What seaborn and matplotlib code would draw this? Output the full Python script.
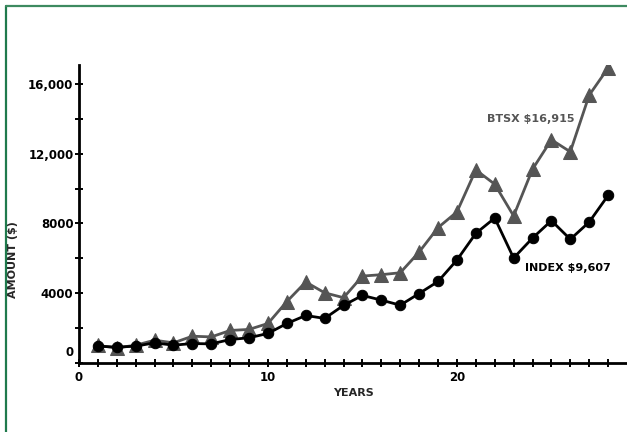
import numpy as np
import pandas as pd
import matplotlib
matplotlib.use("Agg")
import matplotlib.pyplot as plt
import matplotlib.transforms as mtransforms
from matplotlib.lines import Line2D
import seaborn as sns

years = list(range(1, 29))
index_vals = [960, 900, 960, 1150, 1015, 1110, 1090, 1340, 1440, 1690,
              2260, 2720, 2550, 3300, 3870, 3600, 3310, 3980, 4670, 5900,
              7430, 8310, 6015, 7160, 8160, 7090, 8080, 9607]
btsx_vals = [1000, 860, 1015, 1300, 1150, 1530, 1490, 1860, 1920, 2260,
             3520, 4640, 4020, 3740, 4980, 5060, 5170, 6360, 7760, 8660,
             11070, 10250, 8430, 11110, 12800, 12110, 15360, 16915]
ytick_vals = [0, 4000, 8000, 12000, 16000]
ytick_labels = ["0", "4000", "8000", "12,000", "16,000"]
xtick_vals = [0, 10, 20]

df = pd.DataFrame({"year": years, "index": index_vals, "btsx": btsx_vals})

sns.set_style("ticks")
plt.rcParams['font.family'] = ['DejaVu Sans']

fig = plt.figure(figsize=(6.27, 4.32), dpi=100)
ax = fig.add_axes([0.126, 0.16, 0.874, 0.69])

sns.lineplot(data=df, x="year", y="btsx", ax=ax, color="#555555", lw=2.0,
             marker="^", markersize=10, markeredgecolor="#555555")
sns.lineplot(data=df, x="year", y="index", ax=ax, color="black", lw=2.0,
             marker="o", markersize=7.5, markeredgecolor="black")

ax.set_xlim(0, 29)
ax.set_ylim(0, 17100)

# spines
sns.despine(ax=ax)
for s in ["left", "bottom"]:
    ax.spines[s].set_linewidth(2.0)
    ax.spines[s].set_color("black")

# ticks
ax.set_xticks(range(0, 29))
ax.set_xticklabels([str(v) if v in xtick_vals else "" for v in range(0, 29)])
ax.set_yticks(range(0, 17000, 2000))
ax.set_yticklabels([ytick_labels[ytick_vals.index(v)] if v in ytick_vals else ""
                    for v in range(0, 17000, 2000)])
ax.tick_params(axis="both", direction="inout", length=6, width=1.4,
               colors="black", labelsize=8.5)
ax.tick_params(axis="x", pad=3)
ax.tick_params(axis="y", pad=1)
for lab in ax.get_xticklabels() + ax.get_yticklabels():
    lab.set_fontweight("bold")

# the "0" label on the y axis sits a bit above the axis line
lab0 = ax.get_yticklabels()[0]
lab0.set_transform(lab0.get_transform() +
                   mtransforms.ScaledTranslation(0, 12 / 100, fig.dpi_scale_trans))

ax.set_xlabel("YEARS", fontsize=8, fontweight="bold", labelpad=3)
ax.set_ylabel("AMOUNT ($)", fontsize=8, fontweight="bold")
ax.yaxis.set_label_coords(-0.111, 0.346)

ax.text(26.2, 14000, "BTSX $16,915", color="#555555",
        fontsize=8, fontweight="bold", ha="right", va="center")
ax.text(23.6, 5440, "INDEX $9,607", color="black",
        fontsize=8, fontweight="bold", ha="left", va="center")

# green frame
fig.add_artist(Line2D([6 / 627, 6 / 627], [0, 1 - 6 / 432], color="#1f7a4c",
                      lw=1.6, transform=fig.transFigure))
fig.add_artist(Line2D([6 / 627, 1], [1 - 6 / 432, 1 - 6 / 432], color="#3d8a60",
                      lw=1.6, transform=fig.transFigure))

fig.savefig("out.png", dpi=100)
